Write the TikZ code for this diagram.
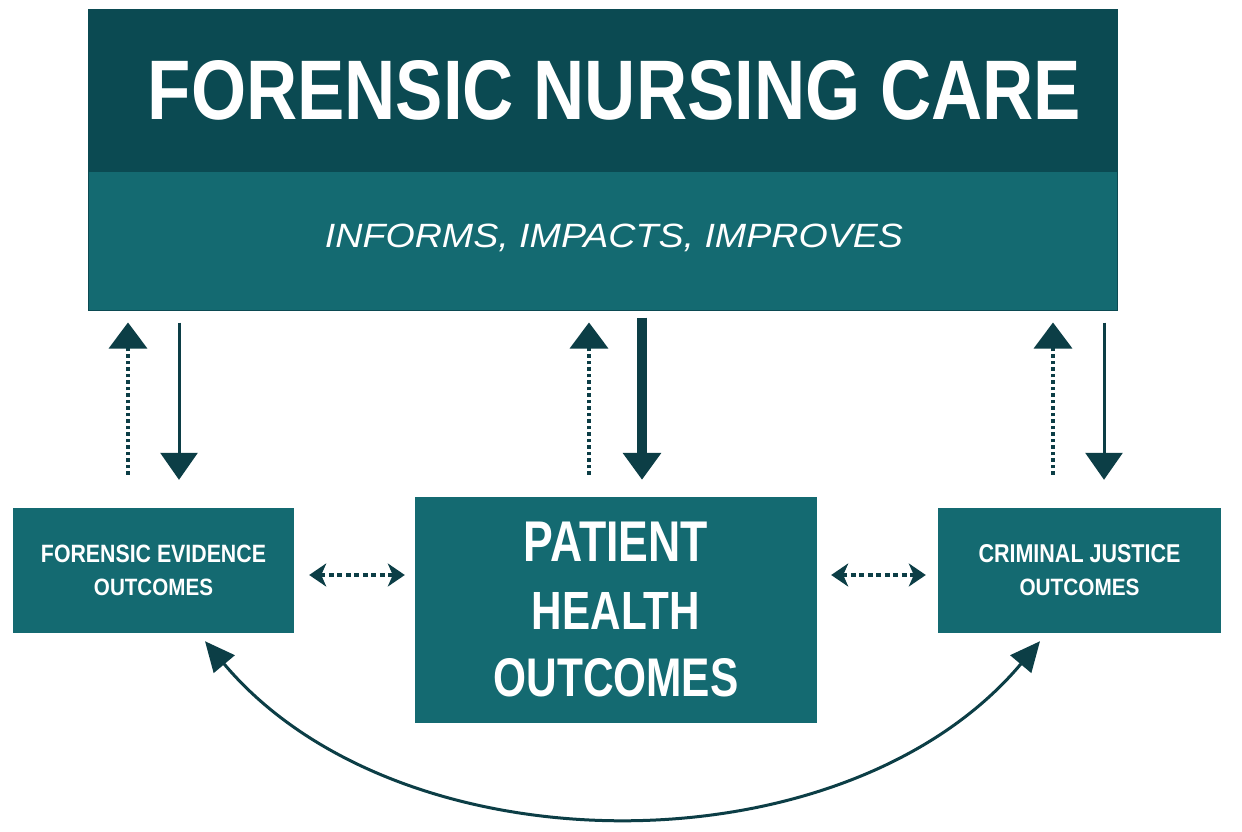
\documentclass[tikz,border=0pt]{standalone}
\usepackage{fontspec}
\setmainfont{Liberation Sans}
\usepackage{graphicx}
\usetikzlibrary{arrows.meta,calc}
\definecolor{darkband}{RGB}{11,74,82}
\definecolor{tealbox}{RGB}{20,106,113}
\definecolor{arrowc}{RGB}{12,62,70}
\newcommand{\lbl}[3]{\resizebox{#1}{#2}{\bfseries #3}}
\tikzset{
  box/.style={rectangle, fill=tealbox, text=white, inner sep=0pt, align=center},
  solidarrow/.style={draw=arrowc, line width=3pt, -{Triangle[length=27pt,width=37pt]}},
  dotarrow/.style={draw=arrowc, line width=3.5pt, dash pattern=on 3.5pt off 3pt, -{Triangle[length=26pt,width=38pt]}},
  harrow/.style={draw=arrowc, line width=3.5pt, dash pattern=on 5pt off 3.5pt, {Stealth[length=17pt,width=23pt,inset=5pt]}-{Stealth[length=17pt,width=23pt,inset=5pt]}},
  curvearrow/.style={draw=arrowc, line width=3pt, {Triangle[length=30pt,width=27pt]}-{Triangle[length=30pt,width=27pt]}},
  txt/.style={inner sep=0pt, anchor=base, text=white}
}
\begin{document}
\begin{tikzpicture}[x=1pt,y=-1pt]
\useasboundingbox[fill=white] (0,0) rectangle (1242,832);
% top box
\node[box, draw=darkband, line width=1pt, minimum width=1029pt, minimum height=300pt] (fnc) at (602.5,160) {};
\fill[darkband] (fnc.north west) rectangle ($(fnc.north east)+(0,162)$);
\node[txt] (title) at ($(fnc.north)+(12,110)$) {\lbl{933pt}{59pt}{FORENSIC NURSING CARE}};
\node[txt] (sub) at ($(fnc.north)+(11.5,238)$) {\resizebox{578pt}{23.5pt}{\itshape INFORMS, IMPACTS, IMPROVES}};
% lower boxes
\node[box, minimum width=281pt, minimum height=125pt, font=\fontsize{10}{33}\selectfont] (ev) at (153.5,570.5)
  {\lbl{225pt}{17.5pt}{FORENSIC EVIDENCE}\\\lbl{119pt}{16.5pt}{OUTCOMES}};
\node[box, minimum width=402pt, minimum height=226pt, font=\fontsize{10}{67.5}\selectfont] (ph) at (616,610)
  {\lbl{184pt}{39.5pt}{PATIENT}\\\lbl{168pt}{37pt}{HEALTH}\\\lbl{245pt}{38pt}{OUTCOMES}};
\node[box, minimum width=283pt, minimum height=125pt, font=\fontsize{10}{33}\selectfont] (cj) at (1079.5,570.5)
  {\lbl{202pt}{18pt}{CRIMINAL JUSTICE}\\\lbl{120pt}{16.5pt}{OUTCOMES}};
% vertical arrows: left
\draw[dotarrow, shorten <=33pt, shorten >=12pt] ($(ev.north)+(-25.5,0)$) -- ($(fnc.south -| ev.north)+(-25.5,0)$);
\draw[solidarrow, shorten <=12pt, shorten >=28pt] ($(fnc.south -| ev.north)+(25.5,0)$) -- ($(ev.north)+(25.5,0)$);
% middle
\draw[dotarrow, shorten <=22pt, shorten >=12pt] ($(ph.north)+(-27,0)$) -- ($(fnc.south -| ph.north)+(-27,0)$);
\draw[solidarrow, line width=10pt, shorten <=7pt, shorten >=17pt] ($(fnc.south -| ph.north)+(26,0)$) -- ($(ph.north)+(26,0)$);
% right
\draw[dotarrow, shorten <=33pt, shorten >=12pt] ($(cj.north)+(-26.5,0)$) -- ($(fnc.south -| cj.north)+(-26.5,0)$);
\draw[solidarrow, shorten <=12pt, shorten >=28pt] ($(fnc.south -| cj.north)+(24.5,0)$) -- ($(cj.north)+(24.5,0)$);
% horizontal arrows
\coordinate (hl) at ($(ev.east)+(0,4.5)$);
\coordinate (hr) at ($(cj.west)+(0,4.5)$);
\draw[harrow, shorten <=15pt, shorten >=10pt] (hl) -- (hl -| ph.west);
\draw[harrow, shorten <=14pt, shorten >=12pt] (hr -| ph.east) -- (hr);
% bottom curve
\coordinate (cl) at ($(ev.south)+(51.5,8)$);
\coordinate (cr) at ($(cj.south)+(-39.5,8)$);
\draw[curvearrow] (cl) .. controls ($(cl)+(195,232)$) and ($(cr)+(-195,232)$) .. (cr);
\end{tikzpicture}
\end{document}
